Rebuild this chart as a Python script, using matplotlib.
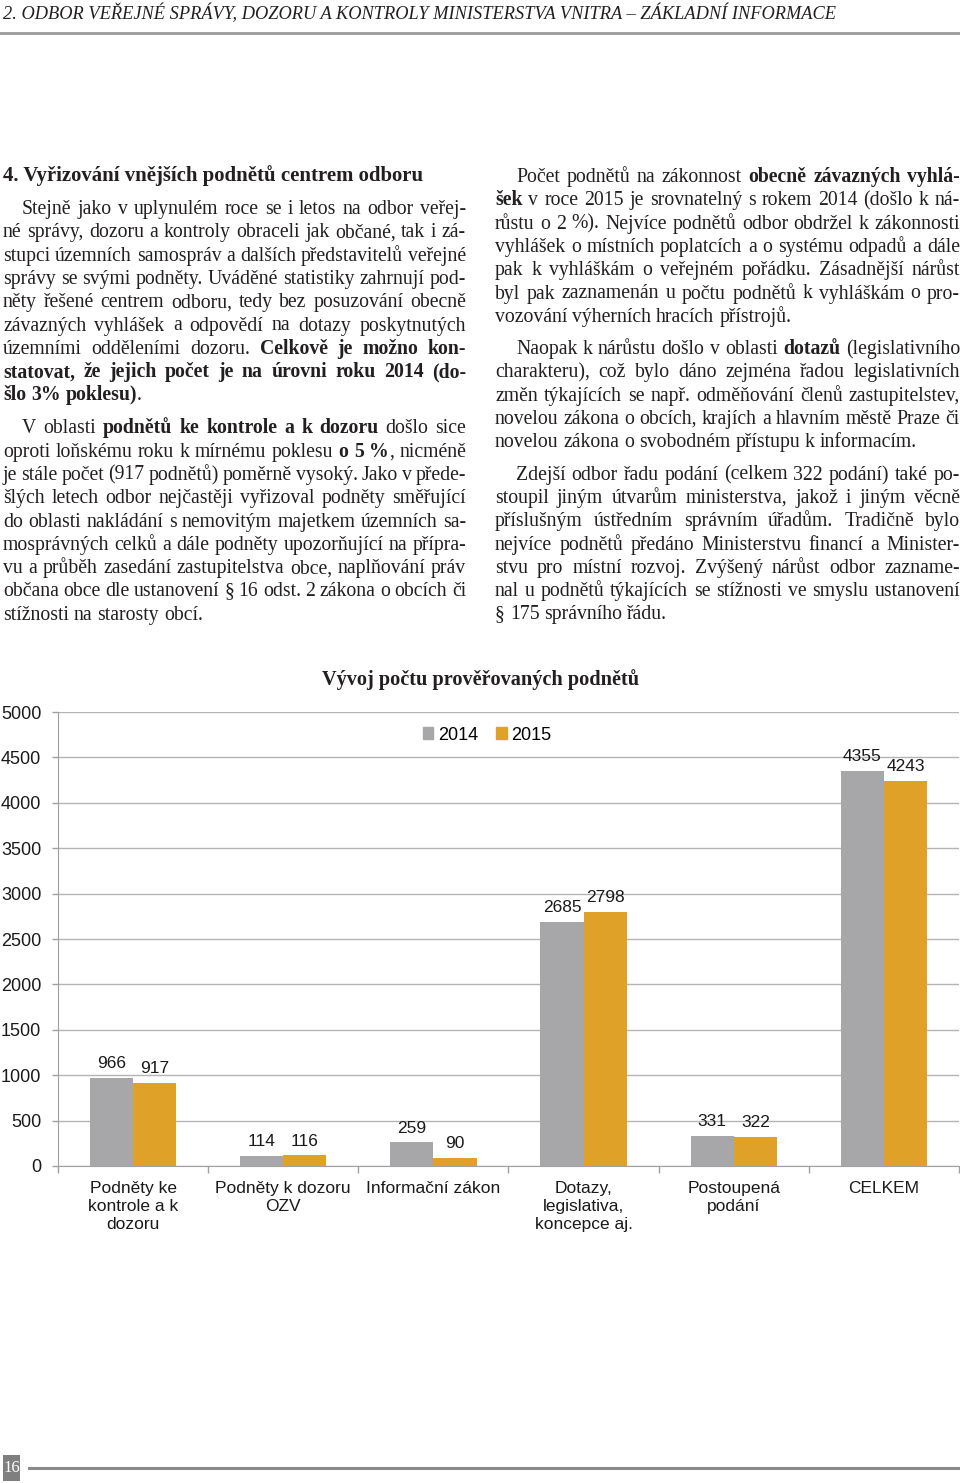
import numpy as np
import matplotlib
matplotlib.use("Agg")
import matplotlib.pyplot as plt
from matplotlib.patches import Rectangle, Patch
from matplotlib.lines import Line2D

W, H = 960, 1483
SERIF = "Liberation Serif"
SANS = "Liberation Sans"

# chart data
categories = [
    "Podněty ke\nkontrole a k\ndozoru",
    "Podněty k dozoru\nOZV",
    "Informační zákon",
    "Dotazy,\nlegislativa,\nkoncepce aj.",
    "Postoupená\npodání",
    "CELKEM",
]
v2014 = [966, 114, 259, 2685, 331, 4355]
v2015 = [917, 116, 90, 2798, 322, 4243]
series_names = ["2014", "2015"]
yticks = [0, 500, 1000, 1500, 2000, 2500, 3000, 3500, 4000, 4500, 5000]

header = "2. ODBOR VEŘEJNÉ SPRÁVY, DOZORU A KONTROLY MINISTERSTVA VNITRA – ZÁKLADNÍ INFORMACE"
heading = "4. Vyřizování vnějších podnětů centrem odboru"
chart_title = "Vývoj počtu prověřovaných podnětů"
page_no = "16"

# text columns: each paragraph is a list of lines, ** toggles bold
left_paras = [
    [
        "Stejně jako v uplynulém roce se i letos na odbor veřej-",
        "né správy, dozoru a kontroly obraceli jak občané, tak i zá-",
        "stupci územních samospráv a dalších představitelů veřejné",
        "správy se svými podněty. Uváděné statistiky zahrnují pod-",
        "něty řešené centrem odboru, tedy bez posuzování obecně",
        "závazných vyhlášek a odpovědí na dotazy poskytnutých",
        "územními odděleními dozoru. **Celkově je možno kon-",
        "statovat, že jejich počet je na úrovni roku 2014 (do-",
        "šlo 3% poklesu)**.",
    ],
    [
        "V oblasti **podnětů ke kontrole a k dozoru** došlo sice",
        "oproti loňskému roku k mírnému poklesu **o 5 %**, nicméně",
        "je stále počet (917 podnětů) poměrně vysoký. Jako v přede-",
        "šlých letech odbor nejčastěji vyřizoval podněty směřující",
        "do oblasti nakládání s nemovitým majetkem územních sa-",
        "mosprávných celků a dále podněty upozorňující na přípra-",
        "vu a průběh zasedání zastupitelstva obce, naplňování práv",
        "občana obce dle ustanovení § 16 odst. 2 zákona o obcích či",
        "stížnosti na starosty obcí.",
    ],
]
right_paras = [
    [
        "Počet podnětů na zákonnost **obecně závazných vyhlá-",
        "šek** v roce 2015 je  srovnatelný s rokem 2014 (došlo k ná-",
        "růstu o 2 %). Nejvíce podnětů odbor obdržel k zákonnosti",
        "vyhlášek o místních poplatcích a o systému odpadů a dále",
        "pak k vyhláškám o veřejném pořádku. Zásadnější nárůst",
        "byl pak zaznamenán u počtu podnětů k vyhláškám o pro-",
        "vozování výherních hracích přístrojů.",
    ],
    [
        "Naopak k nárůstu došlo v oblasti **dotazů** (legislativního",
        "charakteru), což bylo dáno zejména řadou legislativních",
        "změn týkajících se např. odměňování členů zastupitelstev,",
        "novelou zákona o obcích, krajích a hlavním městě Praze či",
        "novelou zákona o svobodném přístupu k informacím.",
    ],
    [
        "Zdejší odbor řadu podání (celkem 322 podání) také po-",
        "stoupil jiným útvarům ministerstva, jakož i jiným věcně",
        "příslušným ústředním správním úřadům. Tradičně bylo",
        "nejvíce podnětů předáno Ministerstvu financí a Minister-",
        "stvu pro místní rozvoj. Zvýšený nárůst odbor zazname-",
        "nal u podnětů týkajících se stížnosti ve smyslu ustanovení",
        "§ 175 správního řádu.",
    ],
]

fig = plt.figure(figsize=(W / 100, H / 100), dpi=100)
renderer = fig.canvas.get_renderer()


def fx(x):
    return x / W


def fy(y):
    return 1 - y / H


def measure(s, size, weight="normal", style="normal", family=SERIF):
    t = fig.text(0, 0, s, fontsize=size, fontweight=weight, fontstyle=style, family=family)
    w = t.get_window_extent(renderer).width
    t.remove()
    return w


def parse(line, bold):
    words = [[]]
    for i, part in enumerate(line.split("**")):
        if i > 0:
            bold = not bold
        for j, c in enumerate(part.split(" ")):
            if j > 0:
                words.append([])
            if c:
                words[-1].append((c, bold))
    return [w for w in words if w], bold


def draw_line(x0, base, width, words, size, justify):
    while True:
        widths = [[measure(s, size, "bold" if b else "normal") for s, b in w] for w in words]
        total = sum(sum(ws) for ws in widths)
        if total + 0.15 * size * 1.39 * (len(words) - 1) <= width or not justify:
            break
        size -= 0.1
    space = 0.25 * size * 1.39
    if justify and len(words) > 1:
        gap = (width - total) / (len(words) - 1)
    else:
        gap = space
    x = x0
    for w, ws in zip(words, widths):
        for (s, b), pw in zip(w, ws):
            fig.text(fx(x), fy(base), s, fontsize=size, family=SERIF,
                     fontweight="bold" if b else "normal", ha="left", va="baseline",
                     color="#231f20")
            x += pw
        x += gap


def draw_column(paras, x0, right, indent, first_base, step, para_gap, size):
    base = first_base
    for lines in paras:
        bold = False
        for k, line in enumerate(lines):
            words, bold = parse(line, bold)
            xs = x0 + indent if k == 0 else x0
            draw_line(xs, base, right - xs, words, size, k < len(lines) - 1)
            base += step
        base += para_gap


# header
hsize = 15 * 833 / measure(header, 15, style="italic")
fig.text(fx(3), fy(19), header, fontsize=hsize, fontstyle="italic", family=SERIF,
         ha="left", va="baseline", color="#231f20")
fig.add_artist(Line2D([0, 1], [fy(33), fy(33)], transform=fig.transFigure,
                      color="#9a9a9a", lw=2))

# heading
gsize = 14 * 421 / measure(heading, 14, weight="bold")
fig.text(fx(3), fy(181), heading, fontsize=gsize, fontweight="bold", family=SERIF,
         ha="left", va="baseline", color="#231f20")

BODY = 14.2
draw_column(left_paras, 3, 466, 19, 214, 23.3, 9.6, BODY)
draw_column(right_paras, 495, 960, 21, 182, 23.3, 9.0, BODY)

# chart
gray = "#a7a7aa"
orange = "#e0a128"
ax = fig.add_axes([fx(58), fy(1166), (959 - 58) / W, (1166 - 712) / H])
x = np.arange(len(categories))
bw = 0.287
b1 = ax.bar(x - bw / 2, v2014, bw, color=gray, label=series_names[0], zorder=3)
b2 = ax.bar(x + bw / 2, v2015, bw, color=orange, label=series_names[1], zorder=3)
for bars, vals in ((b1, v2014), (b2, v2015)):
    for r, v in zip(bars, vals):
        ax.annotate(str(v), (r.get_x() + r.get_width() / 2, v), xytext=(0, 5),
                    textcoords="offset points", ha="center", va="bottom",
                    fontsize=12.5, family=SANS, color="#1a1a1a")

ax.set_xlim(-0.5, len(categories) - 0.5)
ax.set_ylim(0, 5000)
ax.set_yticks(yticks)
ax.set_yticklabels([str(t) for t in yticks], fontsize=13, family=SANS, color="#1a1a1a")
ax.yaxis.grid(True, color="#b4b4b4", lw=1, zorder=0)
ax.set_xticks(x)
ax.set_xticklabels(categories, fontsize=12.5, family=SANS, color="#1a1a1a",
                   linespacing=1.25)
ax.set_xticks(np.arange(-0.5, len(categories)), minor=True)
ax.tick_params(axis="x", which="major", length=0, pad=11)
ax.tick_params(axis="x", which="minor", length=5, color="#a0a0a0", width=1)
ax.tick_params(axis="y", length=4, color="#a0a0a0", width=1, pad=8)
for s in ("top", "right"):
    ax.spines[s].set_visible(False)
ax.spines["left"].set_color("#a0a0a0")
ax.spines["bottom"].set_color("#a0a0a0")

fig.text(fx(481), fy(680), chart_title, fontsize=14.6, fontweight="bold", family=SERIF,
         ha="center", va="center", color="#231f20")
handles = [Patch(color=gray, label=series_names[0]), Patch(color=orange, label=series_names[1])]
fig.legend(handles=handles, loc="center", bbox_to_anchor=(fx(487), fy(735)), ncol=2,
           frameon=False, prop={"family": SANS, "size": 13}, handlelength=0.6,
           handleheight=0.6, handletextpad=0.25, columnspacing=1.0)

# footer
fig.add_artist(Rectangle((fx(3), fy(1481)), 17 / W, 26 / H, transform=fig.transFigure,
                         color="#7f7f7f", lw=0))
fig.text(fx(11.5), fy(1468), page_no, fontsize=12, family=SERIF, color="white",
         ha="center", va="center")
fig.add_artist(Line2D([fx(29), 1], [fy(1468), fy(1468)], transform=fig.transFigure,
                      color="#8a8a8a", lw=2.2))

fig.savefig("out.png", dpi=100)
